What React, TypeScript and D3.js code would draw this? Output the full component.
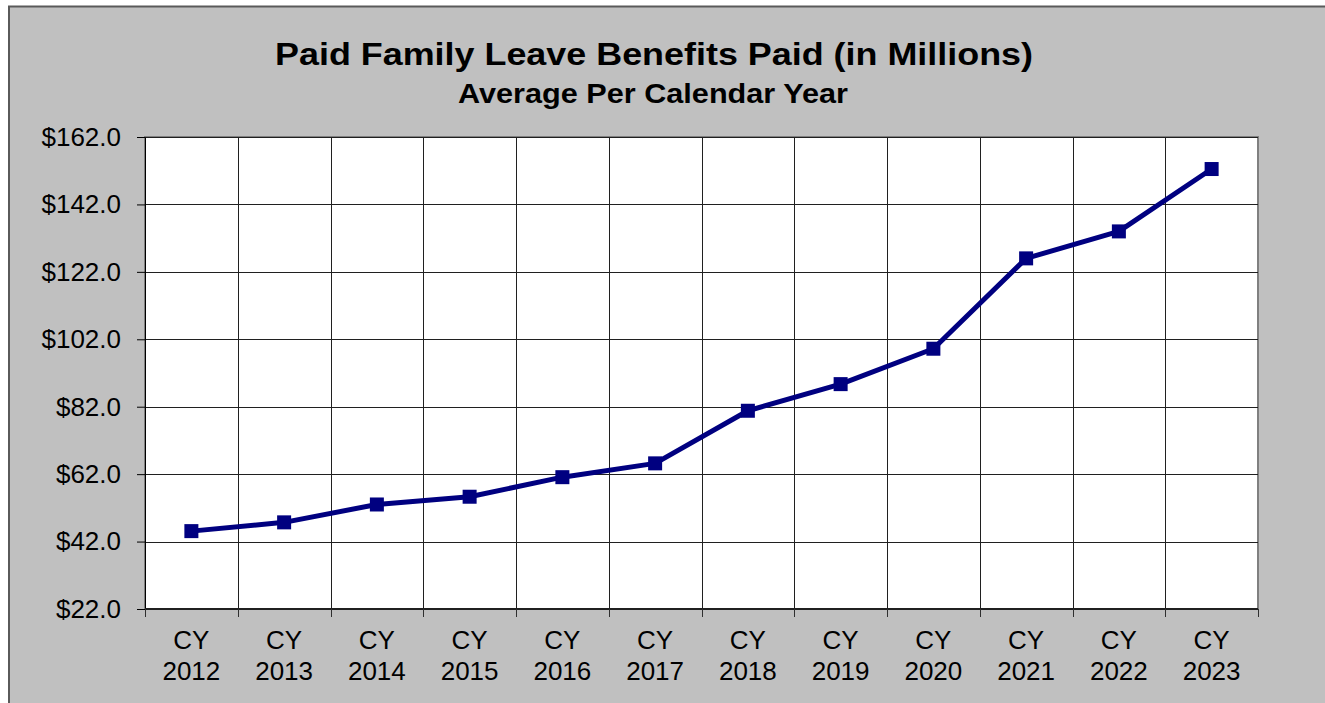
import { FC, useEffect, useRef } from 'react';
import * as d3 from 'd3';

const categories = ['2012', '2013', '2014', '2015', '2016', '2017', '2018', '2019', '2020', '2021', '2022', '2023'];
const benefitsPaid = [45.1, 47.7, 53.0, 55.3, 61.1, 65.2, 80.8, 88.7, 99.2, 126.0, 134.0, 152.5];
const yTicks = [22, 42, 62, 82, 102, 122, 142, 162];

const FONT = 'Arial, "Liberation Sans", sans-serif';

const App: FC = () => {
  const svgRef = useRef<SVGSVGElement>(null);

  useEffect(() => {
    if (!svgRef.current) return;
    const width = 1325;
    const height = 703;
    const left = 145;
    const right = 1258;
    const top = 137;
    const bottom = 609;

    const svg = d3.select(svgRef.current).attr('width', width).attr('height', height);
    svg.selectAll('*').remove();

    // chart area (cropped on right and bottom like the original)
    svg
      .append('rect')
      .attr('x', 9)
      .attr('y', 6.5)
      .attr('width', width + 10)
      .attr('height', height + 10)
      .attr('fill', '#c0c0c0')
      .attr('stroke', '#5a5a5a')
      .attr('stroke-width', 2);

    // titles, stretched a little wider like the original renderer
    svg
      .append('text')
      .attr('x', 654)
      .attr('y', 65)
      .attr('text-anchor', 'middle')
      .attr('font-family', FONT)
      .attr('font-weight', 'bold')
      .attr('font-size', 32)
      .attr('textLength', 758)
      .attr('lengthAdjust', 'spacingAndGlyphs')
      .text('Paid Family Leave Benefits Paid (in Millions)');
    svg
      .append('text')
      .attr('x', 653)
      .attr('y', 103)
      .attr('text-anchor', 'middle')
      .attr('font-family', FONT)
      .attr('font-weight', 'bold')
      .attr('font-size', 28)
      .attr('textLength', 390)
      .attr('lengthAdjust', 'spacingAndGlyphs')
      .text('Average Per Calendar Year');

    const xScale = d3.scaleBand<string>().domain(categories).range([left, right]);
    const yScale = d3.scaleLinear().domain([22, 162]).range([bottom, top]);

    svg
      .append('rect')
      .attr('x', left)
      .attr('y', top)
      .attr('width', right - left)
      .attr('height', bottom - top)
      .attr('fill', 'white')
      .attr('stroke', '#808080')
      .attr('stroke-width', 2);

    // horizontal grid
    svg
      .append('g')
      .selectAll('line')
      .data(yTicks.slice(1))
      .join('line')
      .attr('x1', left)
      .attr('x2', right)
      .attr('y1', (d) => Math.round(yScale(d)) + 0.5)
      .attr('y2', (d) => Math.round(yScale(d)) + 0.5)
      .attr('stroke', '#202020')
      .attr('stroke-width', 1);

    // vertical grid
    svg
      .append('g')
      .selectAll('line')
      .data(categories.slice(1))
      .join('line')
      .attr('x1', (d) => Math.round(xScale(d)!) + 0.5)
      .attr('x2', (d) => Math.round(xScale(d)!) + 0.5)
      .attr('y1', top)
      .attr('y2', bottom)
      .attr('stroke', '#202020')
      .attr('stroke-width', 1);

    const yAxis = d3
      .axisLeft(yScale)
      .tickValues(yTicks)
      .tickFormat((d) => `$${(+d).toFixed(1)}`)
      .tickSizeInner(8)
      .tickSizeOuter(0)
      .tickPadding(16);
    const yG = svg.append('g').attr('transform', `translate(${left},0)`).call(yAxis);
    yG.select('.domain').attr('stroke', '#000');
    yG.selectAll('text').attr('font-family', FONT).attr('font-size', 26).attr('fill', '#000');

    // x axis line and tick marks at category boundaries
    svg
      .append('line')
      .attr('x1', left)
      .attr('x2', right)
      .attr('y1', bottom)
      .attr('y2', bottom)
      .attr('stroke', '#202020')
      .attr('stroke-width', 2);
    svg
      .append('g')
      .selectAll('line')
      .data([...categories.map((c) => xScale(c)!), right])
      .join('line')
      .attr('x1', (d) => Math.round(d) + 0.5)
      .attr('x2', (d) => Math.round(d) + 0.5)
      .attr('y1', bottom)
      .attr('y2', bottom + 8)
      .attr('stroke', '#303030');

    const labels = svg
      .append('g')
      .selectAll('text')
      .data(categories)
      .join('text')
      .attr('text-anchor', 'middle')
      .attr('font-family', FONT)
      .attr('font-size', 26)
      .attr('fill', '#000');
    labels
      .append('tspan')
      .attr('x', (d) => xScale(d)! + xScale.bandwidth() / 2)
      .attr('y', 649)
      .text('CY');
    labels
      .append('tspan')
      .attr('x', (d) => xScale(d)! + xScale.bandwidth() / 2)
      .attr('y', 680)
      .text((d) => d);

    const cx = (i: number) => xScale(categories[i])! + xScale.bandwidth() / 2;
    const line = d3
      .line<number>()
      .x((_, i) => cx(i))
      .y((d) => yScale(d));

    svg
      .append('path')
      .datum(benefitsPaid)
      .attr('d', line)
      .attr('fill', 'none')
      .attr('stroke', '#000080')
      .attr('stroke-width', 5)
      .attr('stroke-linejoin', 'round');

    const size = 14;
    svg
      .append('g')
      .selectAll('rect')
      .data(benefitsPaid)
      .join('rect')
      .attr('x', (_, i) => cx(i) - size / 2)
      .attr('y', (d) => yScale(d) - size / 2)
      .attr('width', size)
      .attr('height', size)
      .attr('fill', '#000080');
  }, []);

  return (
    <svg
      ref={svgRef}
      style={{ position: 'absolute', left: 0, top: 0, display: 'block' }}
    />
  );
};

export default App;
